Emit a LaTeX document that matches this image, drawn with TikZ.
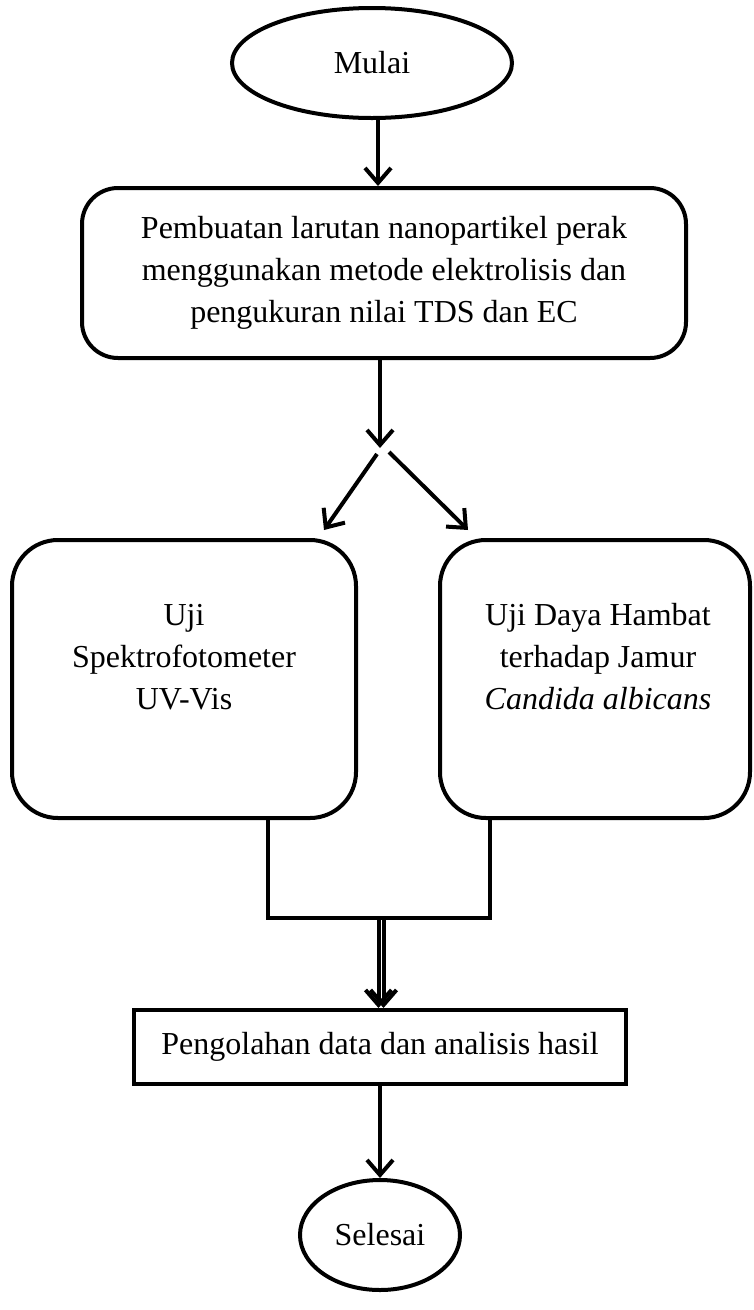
\documentclass[tikz,border=0pt]{standalone}
\usepackage{fontspec}
\setmainfont{Liberation Serif}
\usetikzlibrary{arrows.meta,positioning,shapes.geometric}
\tikzset{flow edge/.style={-{Straight Barb[length=15pt,width=26pt]}, line width=4pt}}
\tikzset{flow line/.style={line width=4pt}}
\tikzset{flow box/.style={draw=black, line width=4pt, rounded corners=36pt, align=center, inner sep=0pt}}
\tikzset{flow side/.style={flow box, rounded corners=46pt}}
\tikzset{flow rect/.style={draw=black, line width=4pt, align=center, inner sep=0pt}}
\tikzset{flow term/.style={draw=black, ellipse, line width=4pt, inner sep=0pt}}
\tikzset{flow text/.style={align=center, inner sep=0pt}}

\begin{document}
\begin{tikzpicture}[x=1pt,y=-1pt,font=\fontsize{32}{42}\selectfont]
		\useasboundingbox (0,0) rectangle (753,1310);

		\node[flow term, minimum width=280pt, minimum height=110pt] (mulai) at (372,63) {Mulai};
		\node[flow box, minimum width=604pt, minimum height=170pt] (buat) at (384,273)
		{Pembuatan larutan nanopartikel perak\\menggunakan metode elektrolisis dan\\pengukuran nilai TDS dan EC};

		\coordinate (split) at (380,448);
		\coordinate (splitL) at (377,454);
		\coordinate (splitR) at (389,452);

		\node[flow side, minimum width=344pt, minimum height=278pt] (spek) at (184,679) {};
		\node[flow text] (spektxt) at (184,657) {Uji\\Spektrofotometer\\UV-Vis};
		\node[flow side, minimum width=310pt, minimum height=278pt] (hambat) at (595,679) {};
		\node[flow text] (hambattxt) at (598,657) {Uji Daya Hambat\\terhadap Jamur\\\textit{Candida albicans}};

		\coordinate (joinL) at (268,918);
		\coordinate (joinR) at (490,918);
		\coordinate (join) at (381,918);

		\node[flow rect, minimum width=492pt, minimum height=74pt] (olah) at (380,1047) {Pengolahan data dan analisis hasil};
		\node[flow term, minimum width=160pt, minimum height=110pt] (selesai) at (380,1235) {Selesai};

		\draw[flow edge] (mulai.south -| 378,0) -- (buat.north -| 378,0);
		\draw[flow edge] (buat.south -| split) -- (split);
		\draw[flow edge] (splitL) -- ([xshift=-34pt,yshift=8pt]spek.north east);
		\draw[flow edge] (splitR) -- ([xshift=30pt,yshift=8pt]hambat.north west);

		\draw[flow line] (spek.south -| joinL) -- (joinL) -- (joinR) -- (hambat.south -| joinR);
		\draw[flow edge] ([xshift=-2.5pt]join) -- ([xshift=-2.5pt]join |- olah.north);
		\draw[flow edge] ([xshift=2.5pt]join) -- ([xshift=2.5pt]join |- olah.north);
		\draw[flow edge] (olah.south) -- (selesai.north);
	\end{tikzpicture}
\end{document}
